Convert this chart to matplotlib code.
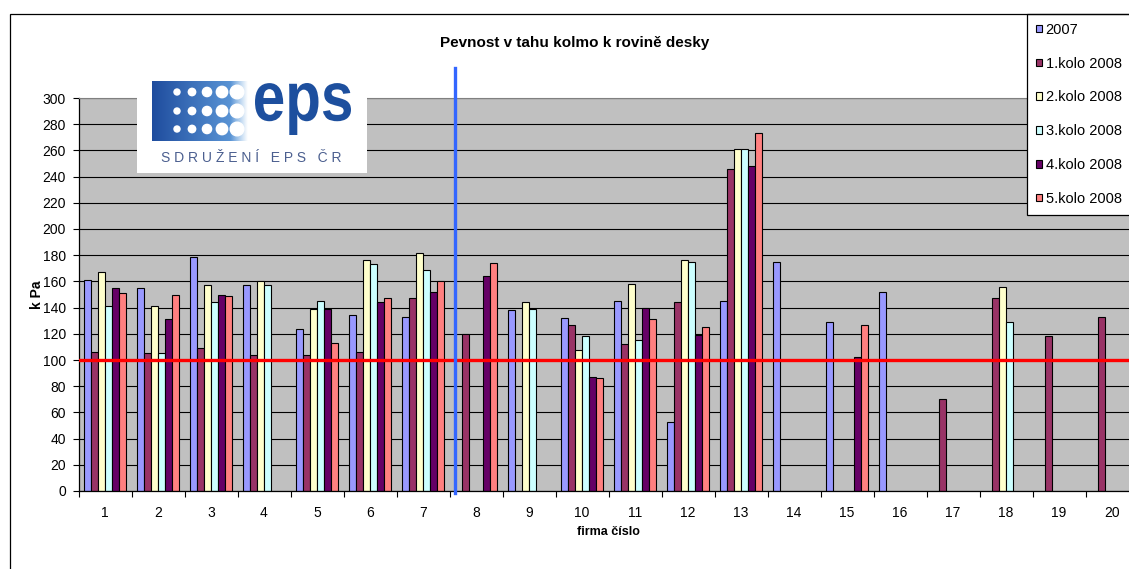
import numpy as np
import matplotlib
matplotlib.use('Agg')
import matplotlib.pyplot as plt
from matplotlib.patches import Rectangle, Circle, PathPatch
from matplotlib.textpath import TextPath
from matplotlib.font_manager import FontProperties
from matplotlib.transforms import Affine2D

plt.rcParams['font.family'] = ['Liberation Sans', 'DejaVu Sans']

# data (kPa), None = no bar
N = None
firmy = list(range(1, 21))
serie = ['2007', '1.kolo 2008', '2.kolo 2008', '3.kolo 2008', '4.kolo 2008', '5.kolo 2008']
barvy = ['#9999ff', '#993366', '#ffffcc', '#ccffff', '#660066', '#ff8080']

rok2007 = [161, 155, 179, 157, 124, 134, 133, N, 138, 132, 145, 53, 145, 175, 129, 152, N, N, N, N]
kolo1 = [106, 105, 109, 104, 104, 106, 147, 120, N, 127, 112, 144, 246, N, N, N, 70, 147, 118, 133]
kolo2 = [167, 141, 157, 160, 139, 176, 182, N, 144, 108, 158, 176, 261, N, N, N, N, 156, N, N]
kolo3 = [141, 105, 144, 157, 145, 173, 169, N, 139, 118, 115, 175, 261, N, N, N, N, 129, N, N]
kolo4 = [155, 131, 150, N, 139, 144, 152, 164, N, 87, 140, 119, 248, N, 102, N, N, N, N, N]
kolo5 = [151, 150, 149, N, 113, 147, 160, 174, N, 86, 131, 125, 273, N, 127, N, N, N, N, N]

limit = 100          # red requirement line
deleniX = 7.6        # blue separator between firm 7 and 8
yTicks = list(range(0, 301, 20))

titulek = 'Pevnost v tahu kolmo k rovině desky'

W, H = 1129, 569
fig = plt.figure(figsize=(W / 100, H / 100), dpi=100)

# outer chart frame (cut off on the right and bottom like in the original)
fig.add_artist(Rectangle((10 / W, -0.5), 2, 1 - 14 / H + 0.5, transform=fig.transFigure,
                         fill=False, edgecolor='black', linewidth=0.9))

ax = fig.add_axes([78.5 / W, 78 / H, 1060 / W, 393 / H])
ax.set_facecolor('#c0c0c0')

sirka = 0.134
for i, (name, vals, col) in enumerate(zip(serie, [rok2007, kolo1, kolo2, kolo3, kolo4, kolo5], barvy)):
    xs = [f + (i - 2.5) * sirka for f, v in zip(firmy, vals) if v is not None]
    hs = [v for v in vals if v is not None]
    ax.bar(xs, hs, width=sirka, color=col, edgecolor='black', linewidth=0.8, label=name, zorder=2)

ax.axhline(limit, color='#ff0000', linewidth=2.4, zorder=4)
ax.plot([deleniX, deleniX], [-1.5, 323], color='#3366ff', linewidth=2.4, clip_on=False, zorder=5)

ax.set_xlim(0.5, 20.5)
ax.set_ylim(0, 300)
ax.set_yticks(yTicks)
ax.set_xticks(firmy)
ax.set_xticks(np.arange(0.5, 21, 1), minor=True)
ax.tick_params(axis='x', which='major', length=0, pad=11, labelsize=10)
ax.tick_params(axis='x', which='minor', length=4, width=0.8, direction='out')
ax.tick_params(axis='y', length=4, width=0.8, pad=5, labelsize=10)
ax.set_axisbelow(True)
ax.yaxis.grid(True, color='black', linewidth=0.8)

ax.spines['right'].set_visible(False)
ax.spines['top'].set_color('#808080')
ax.spines['left'].set_linewidth(0.9)
ax.spines['bottom'].set_linewidth(0.9)

ax.set_xlabel('firma číslo', fontsize=9, fontweight='bold', labelpad=4)
ax.set_ylabel('k Pa', fontsize=10, fontweight='bold', labelpad=-1)
fig.text(575 / W, 1 - 43 / H, titulek, ha='center', va='center', fontsize=11, fontweight='bold')

leg = ax.legend(loc='upper left', bbox_to_anchor=(1027 / W, 1 - 14 / H), bbox_transform=fig.transFigure,
                fontsize=10.5, frameon=True, fancybox=False, edgecolor='black', framealpha=1,
                borderaxespad=0, borderpad=0.6, labelspacing=1.36, handlelength=0.42,
                handleheight=0.42, handletextpad=0.25)
leg.get_frame().set_linewidth(0.9)
leg.set_zorder(10)

# logo "eps"
logo = fig.add_axes([137 / W, 1 - 173 / H, 230 / W, 92 / H], zorder=6)
logo.set_xlim(0, 230)
logo.set_ylim(92, 0)
logo.axis('off')
logo.add_patch(Rectangle((0, 0), 230, 92, color='white', zorder=0))

t = np.linspace(0, 1, 256)
levy = np.array([0.12, 0.30, 0.62])
pravy = np.array([0.40, 0.64, 0.88])
grad = levy + (pravy - levy) * t[:, None]
fade = np.clip((t - 0.82) / 0.18, 0, 1)[:, None]
grad = grad * (1 - fade) + fade
logo.imshow(grad[None, :, :], extent=(15, 111, 60, 0), aspect='auto', interpolation='bilinear', zorder=1)

for yy in (11, 30, 48):
    for xx, r in zip((40, 55, 70, 85, 100), (3, 3.7, 4.6, 5.7, 6.8)):
        logo.add_patch(Circle((xx, yy), r, color='white', zorder=2))

tp = TextPath((0, 0), 'eps', size=50, prop=FontProperties(family='Liberation Sans', weight='bold'))
ext = tp.get_extents()
tr = Affine2D().translate(-ext.x0, -ext.y1).scale(96 / ext.width, -52 / ext.height).translate(118, 2)
logo.add_patch(PathPatch(tp, transform=tr + logo.transData, color='#1d4f9e', lw=0, zorder=3))

logo.text(114, 77, 'S D R U Ž E N Í   E P S   Č R', ha='center', va='center', fontsize=10,
          color='#4b5f8f', family='Liberation Sans')

fig.savefig('out.png', dpi=100)
